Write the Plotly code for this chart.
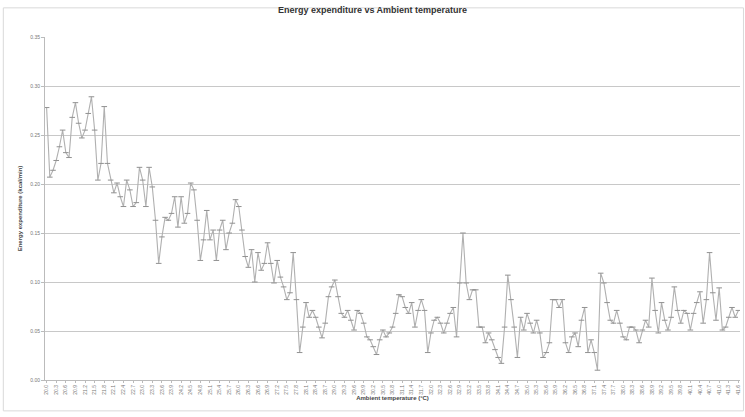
import plotly.graph_objects as go

# Energy expenditure values
energy = [
    0.278, 0.207, 0.214, 0.224, 0.238, 0.255, 0.232, 0.227, 0.268, 0.283,
    0.262, 0.247, 0.255, 0.272, 0.289, 0.255, 0.204, 0.221, 0.279, 0.221,
    0.204, 0.191, 0.201, 0.187, 0.177, 0.204, 0.194, 0.177, 0.181, 0.217,
    0.204, 0.177, 0.217, 0.197, 0.163, 0.119, 0.146, 0.166, 0.163, 0.170,
    0.187, 0.156, 0.187, 0.160, 0.170, 0.201, 0.194, 0.163, 0.122, 0.143,
    0.173, 0.143, 0.153, 0.122, 0.153, 0.163, 0.133,
    0.150, 0.160, 0.184, 0.177, 0.153, 0.126, 0.115, 0.133, 0.100, 0.130,
    0.112, 0.119, 0.140, 0.119, 0.099, 0.122, 0.105, 0.095, 0.082, 0.089,
    0.130, 0.082, 0.028, 0.054, 0.079, 0.064, 0.071, 0.064, 0.054, 0.043,
    0.058, 0.085, 0.095, 0.102, 0.085, 0.068, 0.064, 0.071, 0.061, 0.051,
    0.071, 0.068, 0.058, 0.044, 0.041, 0.034, 0.026, 0.041, 0.051, 0.044,
    0.048, 0.054, 0.068,
    0.087, 0.085, 0.074, 0.068, 0.079, 0.054, 0.071, 0.082, 0.071, 0.028,
    0.048, 0.061, 0.064, 0.058, 0.048, 0.058, 0.068, 0.074, 0.044, 0.099,
    0.150, 0.099, 0.082, 0.092, 0.092, 0.054, 0.054, 0.038, 0.048, 0.041,
    0.031, 0.023, 0.017, 0.054, 0.107, 0.082, 0.054, 0.023, 0.064, 0.051,
    0.068, 0.058, 0.048, 0.061, 0.048, 0.023, 0.028, 0.038, 0.082, 0.082,
    0.074, 0.082,
    0.038, 0.028, 0.044, 0.048, 0.034, 0.061, 0.074, 0.028, 0.041, 0.028,
    0.010, 0.109, 0.099, 0.079, 0.061, 0.058, 0.071, 0.058, 0.044, 0.041,
    0.054, 0.054, 0.051, 0.038, 0.051, 0.061, 0.054, 0.104, 0.071, 0.048,
    0.079, 0.061, 0.051, 0.064, 0.095, 0.071, 0.058, 0.071, 0.068, 0.051,
    0.068, 0.079, 0.090, 0.058, 0.082, 0.130, 0.089, 0.061, 0.094, 0.051,
    0.054, 0.064, 0.074, 0.064, 0.071,
]

# Ambient temperature category labels (°C)
temps = [f"{20.0 + 0.1 * i:.1f}" for i in range(len(energy))]
label_every = 3
tick_labels = temps[::label_every]

y_ticks = [0.0, 0.05, 0.10, 0.15, 0.20, 0.25, 0.30, 0.35]

x_idx = list(range(len(energy)))

fig = go.Figure()
fig.add_trace(go.Scatter(
    x=x_idx, y=energy, mode="lines+markers",
    line=dict(color="#b0b0b0", width=1.1),
    marker=dict(symbol="line-ew", size=4, line=dict(color="#909090", width=1)),
    showlegend=False,
))

fig.update_layout(
    width=745, height=417,
    margin=dict(l=45, r=5, t=37, b=37),
    paper_bgcolor="white", plot_bgcolor="white",
    title=dict(text="<b>Energy expenditure vs Ambient temperature</b>",
               x=0.5, xanchor="center", y=0.985, yanchor="top",
               font=dict(family="Liberation Sans, Arial", size=9, color="#333333")),
    font=dict(family="Liberation Sans, Arial", color="#555555"),
)
fig.update_xaxes(
    range=[-0.5, len(energy) - 0.5],
    tickmode="array", tickvals=x_idx[::label_every], ticktext=tick_labels,
    tickangle=-90, tickfont=dict(size=5, color="#777777"),
    showgrid=False, showline=True, linecolor="#bbbbbb", linewidth=1,
    ticks="outside", ticklen=2, tickcolor="#bbbbbb",
    title=dict(text="<b>Ambient temperature (°C)</b>", standoff=2,
               font=dict(size=6, color="#444444")),
    zeroline=False,
)
fig.update_yaxes(
    range=[0, 0.35],
    tickmode="array", tickvals=y_ticks, ticktext=[f"{v:.2f}" for v in y_ticks],
    tickfont=dict(size=5, color="#777777"),
    showgrid=True, gridcolor="#c8c8c8", gridwidth=1.3,
    showline=True, linecolor="#bbbbbb", linewidth=1,
    ticks="outside", ticklen=3, tickcolor="#bbbbbb",
    title=dict(text="<b>Energy expenditure (kcal/min)</b>", standoff=7,
               font=dict(size=6, color="#444444")),
    zeroline=False,
)
fig.add_shape(type="rect", xref="paper", yref="paper", x0=-0.06, x1=1.005,
              y0=-0.09, y1=1.085, line=dict(color="#d9d9d9", width=1))

fig.write_html("out.html")
